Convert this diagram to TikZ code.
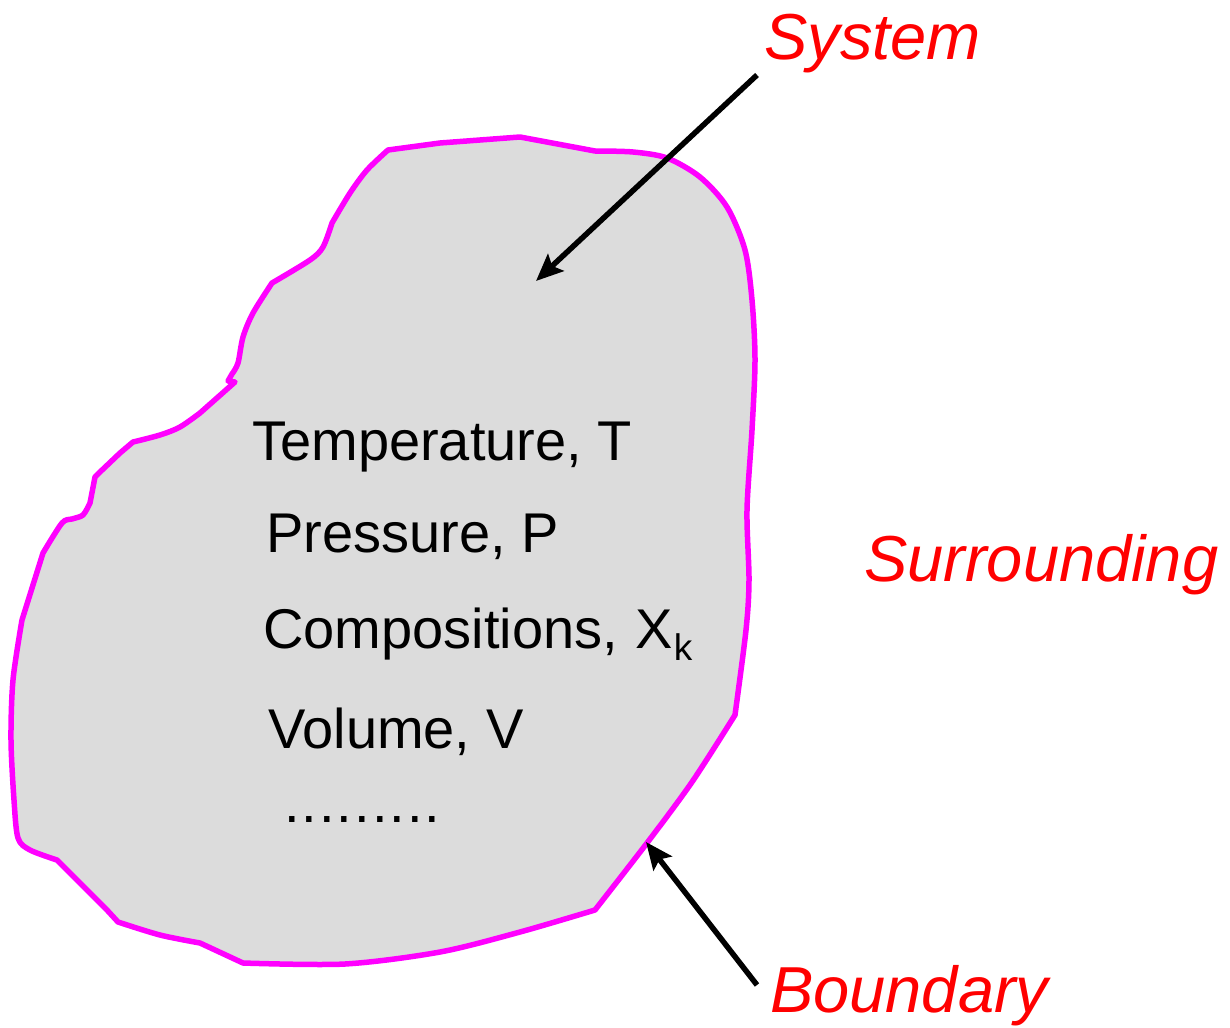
\documentclass[tikz,border=0pt]{standalone}
\usepackage{fontspec}
\setmainfont{Liberation Sans}
\usetikzlibrary{arrows.meta}
\definecolor{blobfill}{HTML}{DCDCDC}
\definecolor{blobline}{HTML}{FF00FF}
\definecolor{labred}{HTML}{FF0000}
\tikzset{
  blob/.style={draw=blobline, fill=blobfill, line width=5.5pt, line join=round},
  pointer/.style={draw=black, line width=5.5pt, -{Stealth[length=27pt,width=23pt,inset=5pt]}},
  proptext/.style={anchor=base west, inner sep=0pt, font=\fontsize{56}{60}\selectfont},
  redlabel/.style={anchor=base west, inner sep=0pt, text=labred, font=\fontsize{65}{70}\selectfont\itshape},
  sm/.style={smooth, tension=0.5}
}
\newcommand{\dotgap}{\kern2pt}
\begin{document}
\begin{tikzpicture}[x=1pt,y=-1pt]
\useasboundingbox (0,0) rectangle (1230,1027);
% system blob
\draw[blob] (388,150) -- (440,143) -- (520,137) -- (595,151)
 -- plot[sm] coordinates {(595,151) (633,152) (667,158) (700,177) (727,207)
      (745,250) (752,300) (755,360) (752,430) (747,510) (749,580) (746,630) (735,715)}
 -- plot[sm] coordinates {(735,715) (692,782) (647,843) (595,910)}
 -- plot[sm] coordinates {(595,910) (520,932) (440,952) (345,964) (243,963)}
 -- (200,943)
 -- plot[sm] coordinates {(200,943) (160,935) (118,922)}
 -- (107,910) -- (57,860)
 -- plot[sm] coordinates {(57,860) (30,850) (18,838) (14,800) (11,740) (13,680) (22,620)}
 -- (43,553)
 -- plot[sm] coordinates {(43,553) (62,523) (72,519) (83,515) (90,503)}
 -- (95,477) -- (100,472) -- (120,453) -- (133,442)
 -- plot[sm] coordinates {(133,442) (160,435) (180,427) (200,413)}
 -- (235,382) -- (228,381) -- (232,374)
 -- plot[sm] coordinates {(232,374) (238,363) (243,337) (253,313) (272,283)}
 -- plot[sm] coordinates {(272,283) (310,260) (323,247) (332,223)}
 -- plot[sm] coordinates {(332,223) (350,193) (367,170) (388,150)}
 -- cycle;
% property texts
\node[proptext] (temp) at (252,460) {Temperature, T};
\node[proptext] (pres) at (266,552) {Pressure, P};
\node[proptext] (comp) at (263,648) {Compositions, \kern2pt X\kern1pt\raisebox{-12pt}{\fontsize{37}{40}\selectfont k}};
\node[proptext] (vol) at (268,748) {Volume, V};
\node[proptext] (dots) at (284,822) {.\dotgap.\dotgap.\dotgap.\dotgap.\dotgap.\dotgap.\dotgap.\dotgap.};
% red labels
\node[redlabel] (sys) at (764,60) {System};
\node[redlabel] (sur) at (864,581) {Surrounding};
\node[redlabel] (bnd) at (770,1012) {Boundary};
% arrows
\coordinate (systail) at (757,75);
\coordinate (systip) at (536,281);
\coordinate (bndtail) at (757,985);
\coordinate (bndtip) at (646,842);
\draw[pointer] (systail) -- (systip);
\draw[pointer] (bndtail) -- (bndtip);
\end{tikzpicture}
\end{document}
